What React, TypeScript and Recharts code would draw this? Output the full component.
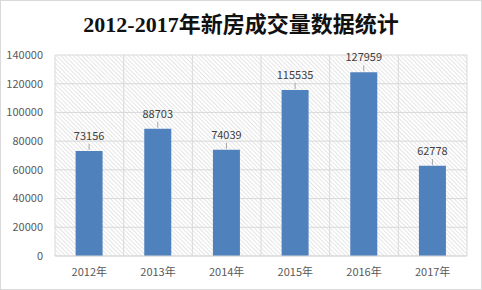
import React from "react";
import { BarChart, Bar, XAxis, YAxis, CartesianGrid, LabelList } from "recharts";

const years = ["2012年", "2013年", "2014年", "2015年", "2016年", "2017年"];
const volumes = [73156, 88703, 74039, 115535, 127959, 62778];
const yTicks = [0, 20000, 40000, 60000, 80000, 100000, 120000, 140000];

const data = years.map((year, i) => ({ year, volume: volumes[i] }));

const FONT = '"Noto Sans CJK SC", "Liberation Sans", sans-serif';

const ValueLabel = (props: any) => {
    const { x, y, width, value } = props;
    const cx = x + width / 2;
    return (
        <g>
            <line x1={cx} x2={cx} y1={y - 1} y2={y - 7} stroke="#a6a6a6" strokeWidth={1} />
            <text x={cx} y={y - 11} textAnchor="middle" fontSize={11} fill="#404040" fontFamily={FONT}>
                {value}
            </text>
        </g>
    );
};

export default function App() {
    return (
        <div style={{ position: "absolute", left: 0, top: 0, width: 482, height: 290, background: "#fff", boxSizing: "border-box", border: "1px solid #d9d9d9" }}>
            <div
                style={{
                    position: "absolute",
                    top: 5,
                    left: 0,
                    width: 480,
                    textAlign: "center",
                    fontFamily: '"Liberation Serif", "Noto Sans CJK SC", serif',
                    fontWeight: "bold",
                    fontSize: 22,
                    color: "#111",
                }}
            >
                2012-2017年新房成交量数据统计
            </div>
            <BarChart
                width={480}
                height={288}
                data={data}
                margin={{ top: 54, right: 14, bottom: 3, left: 0 }}
                barCategoryGap="30%"
                style={{ position: "absolute", left: 0, top: 0 }}
            >
                <defs>
                    <pattern id="hatch" width="3" height="3" patternUnits="userSpaceOnUse" patternTransform="rotate(-45)">
                        <line x1="0" y1="0" x2="0" y2="3" stroke="#cccccc" strokeWidth={1} />
                    </pattern>
                </defs>
                <CartesianGrid
                    fill="url(#hatch)"
                    fillOpacity={1}
                    stroke="#d9d9d9"
                    verticalCoordinatesGenerator={({ offset }: any) =>
                        years.map((_, i) => offset.left + (i * offset.width) / years.length).concat(offset.left + offset.width)
                    }
                />
                <XAxis
                    dataKey="year"
                    tickLine={false}
                    axisLine={{ stroke: "#d9d9d9" }}
                    tick={{ fontSize: 11, fill: "#595959", fontFamily: FONT }}
                    tickMargin={6}
                    interval={0}
                />
                <YAxis
                    domain={[0, 140000]}
                    ticks={yTicks}
                    tickLine={false}
                    axisLine={false}
                    width={54}
                    tick={{ fontSize: 11, fill: "#595959", fontFamily: FONT }}
                    tickMargin={6}
                    interval={0}
                />
                <Bar dataKey="volume" fill="#4F81BD" isAnimationActive={false}>
                    <LabelList dataKey="volume" content={<ValueLabel />} />
                </Bar>
            </BarChart>
        </div>
    );
}
